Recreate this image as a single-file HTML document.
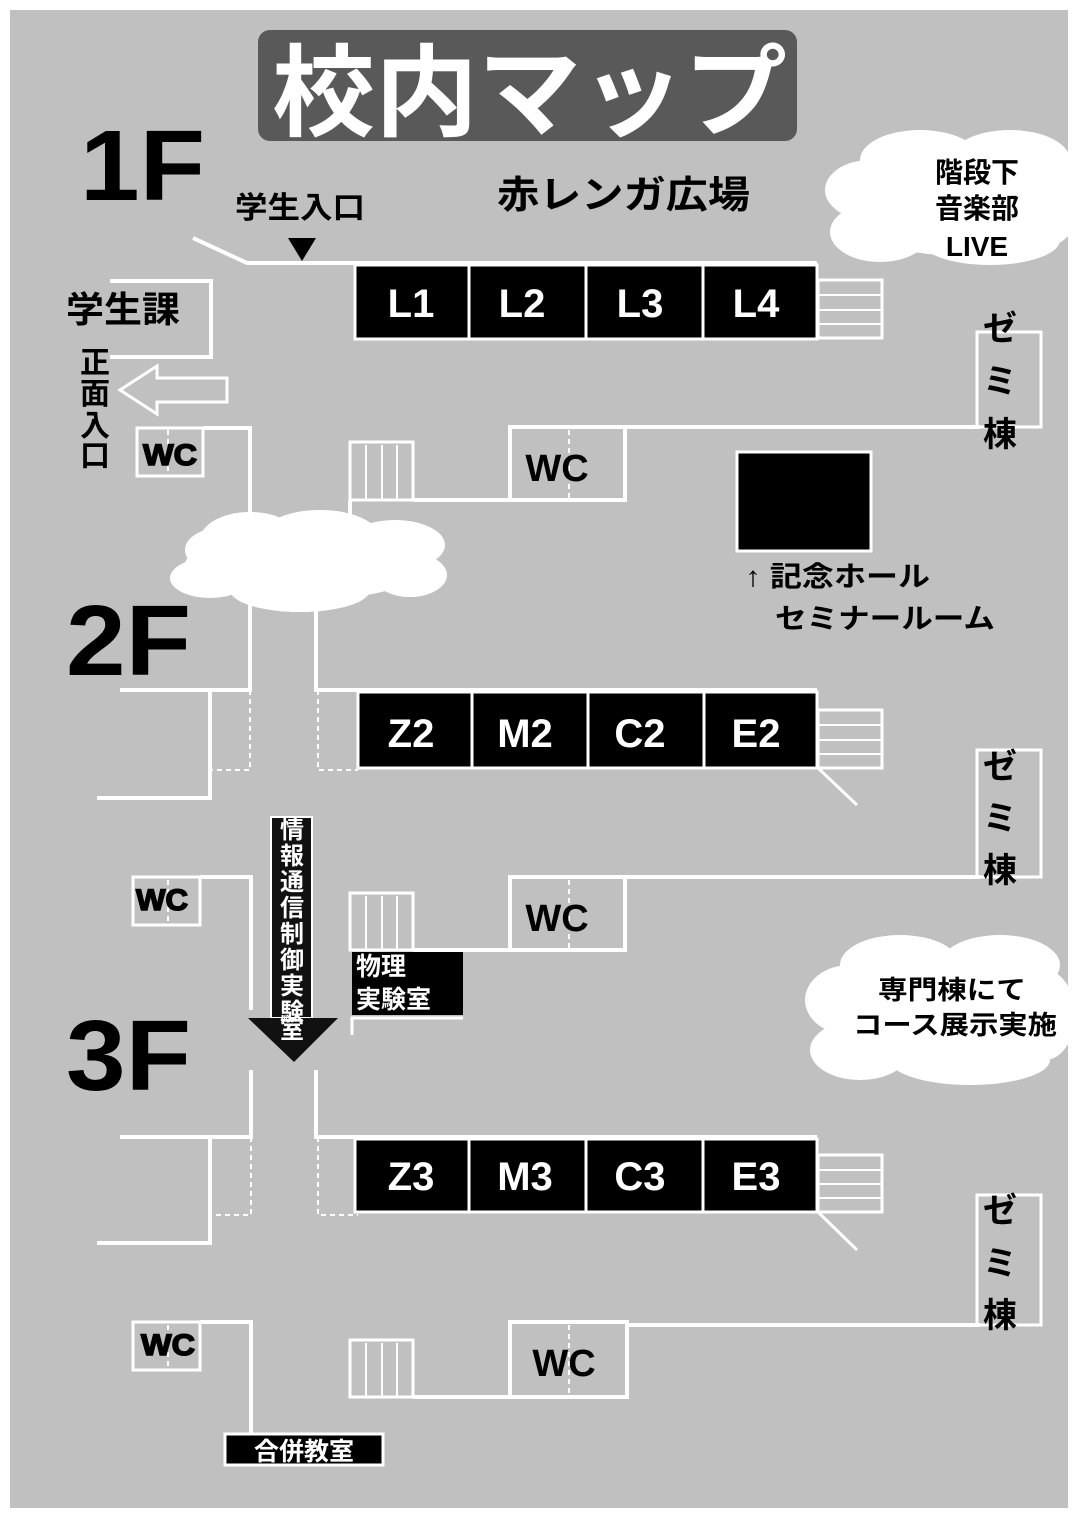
<!DOCTYPE html>
<html><head><meta charset="utf-8"><style>
body{margin:0;background:#fff}
svg{display:block}
text{font-family:"Liberation Sans","Noto Sans CJK JP",sans-serif;font-weight:bold}
</style></head><body>
<svg width="1075" height="1518" viewBox="0 0 1075 1518" xmlns="http://www.w3.org/2000/svg">
<defs><clipPath id="pg"><rect x="10" y="10" width="1058" height="1498"/></clipPath></defs>
<rect x="0" y="0" width="1075" height="1518" fill="#fff"/>
<rect x="10" y="10" width="1058" height="1498" fill="#c0c0c0"/>
<g clip-path="url(#pg)">
<!-- title -->
<rect x="258" y="30" width="539" height="111" rx="12" fill="#595959"/>
<text x="272" y="128" font-size="100" fill="#fff" font-family="Noto Sans CJK JP" font-weight="900" textLength="515" lengthAdjust="spacingAndGlyphs">校内マップ</text>
<text x="80" y="200" font-size="100" fill="#000" font-weight="900" textLength="125" lengthAdjust="spacingAndGlyphs">1F</text>
<text x="66" y="675" font-size="100" fill="#000" textLength="125" lengthAdjust="spacingAndGlyphs">2F</text>
<text x="66" y="1090" font-size="100" fill="#000" textLength="125" lengthAdjust="spacingAndGlyphs">3F</text>
<text x="235" y="218" font-size="30" textLength="130" lengthAdjust="spacingAndGlyphs">学生入口</text>
<text x="497" y="208" font-size="38" textLength="253" lengthAdjust="spacingAndGlyphs">赤レンガ広場</text>
<text x="66" y="322" font-size="36" textLength="114" lengthAdjust="spacingAndGlyphs">学生課</text>
<g font-size="30" text-anchor="middle"><text x="95" y="373">正</text><text x="95" y="404">面</text><text x="95" y="436">入</text><text x="95" y="466">口</text></g>
<polygon points="288,238 316,238 302,261" fill="#000"/>

<g fill="none" stroke="#fff" stroke-width="4">
<polyline points="193,238 247,263 817,263"/>
<polyline points="110,281 211,281 211,357 110,357"/>
<polygon points="227,378 157,378 157,366 120,390 157,414 157,402 227,402" stroke-width="3"/>
<rect x="137" y="428" width="66" height="48" stroke-width="3"/>
<polyline points="203,428 250,428 250,540"/>
<rect x="350" y="442" width="63" height="58" stroke-width="3"/>
<line x1="366" y1="445" x2="366" y2="500" stroke-width="2"/><line x1="382" y1="445" x2="382" y2="500" stroke-width="2"/><line x1="397" y1="445" x2="397" y2="500" stroke-width="2"/>
<line x1="350" y1="500" x2="350" y2="530"/>
<line x1="413" y1="500" x2="510" y2="500"/>
<rect x="510" y="427" width="115" height="73"/>
<line x1="625" y1="427" x2="980" y2="427"/>
<rect x="977" y="332" width="64" height="95" stroke-width="3"/>
<rect x="818" y="280" width="64" height="58" stroke-width="3"/>
<line x1="818" y1="295" x2="882" y2="295" stroke-width="2"/><line x1="818" y1="310" x2="882" y2="310" stroke-width="2"/><line x1="818" y1="324" x2="882" y2="324" stroke-width="2"/>
<polyline points="250,600 250,690 120,690"/>
<polyline points="210,690 210,798 97,798"/>
<polyline points="316,610 316,690 817,690"/>
<rect x="818" y="710" width="64" height="58" stroke-width="3"/>
<line x1="818" y1="725" x2="882" y2="725" stroke-width="2"/><line x1="818" y1="740" x2="882" y2="740" stroke-width="2"/><line x1="818" y1="754" x2="882" y2="754" stroke-width="2"/>
<line x1="818" y1="768" x2="857" y2="805" stroke-width="3"/>
<rect x="977" y="750" width="64" height="127" stroke-width="3"/>
<line x1="625" y1="877" x2="980" y2="877"/>
<rect x="133" y="877" width="67" height="48" stroke-width="3"/>
<polyline points="200,877 251,877 251,1010"/>
<rect x="350" y="893" width="63" height="57" stroke-width="3"/>
<line x1="366" y1="896" x2="366" y2="950" stroke-width="2"/><line x1="382" y1="896" x2="382" y2="950" stroke-width="2"/><line x1="397" y1="896" x2="397" y2="950" stroke-width="2"/>
<line x1="413" y1="950" x2="510" y2="950"/>
<rect x="510" y="877" width="115" height="73"/>
<polyline points="352,1035 352,1018 463,1018" stroke-width="3"/>
<polyline points="251,1070 251,1137 120,1137"/>
<polyline points="210,1137 210,1243 97,1243"/>
<polyline points="316,1070 316,1137 817,1137"/>
<rect x="818" y="1155" width="64" height="57" stroke-width="3"/>
<line x1="818" y1="1170" x2="882" y2="1170" stroke-width="2"/><line x1="818" y1="1184" x2="882" y2="1184" stroke-width="2"/><line x1="818" y1="1198" x2="882" y2="1198" stroke-width="2"/>
<line x1="818" y1="1212" x2="857" y2="1250" stroke-width="3"/>
<rect x="977" y="1195" width="64" height="130" stroke-width="3"/>
<line x1="627" y1="1325" x2="980" y2="1325"/>
<rect x="133" y="1322" width="67" height="48" stroke-width="3"/>
<polyline points="200,1322 251,1322 251,1437"/>
<rect x="350" y="1340" width="63" height="57" stroke-width="3"/>
<line x1="366" y1="1343" x2="366" y2="1397" stroke-width="2"/><line x1="382" y1="1343" x2="382" y2="1397" stroke-width="2"/><line x1="397" y1="1343" x2="397" y2="1397" stroke-width="2"/>
<line x1="413" y1="1397" x2="510" y2="1397"/>
<rect x="510" y="1322" width="117" height="75"/>
</g>
<g stroke="#fff" stroke-width="2" stroke-dasharray="5,4" fill="none">
<line x1="168" y1="430" x2="168" y2="476"/><line x1="569" y1="430" x2="569" y2="500"/>
<polyline points="250,690 250,770 212,770"/><polyline points="318,690 318,770 358,770"/>
<line x1="168" y1="880" x2="168" y2="925"/><line x1="569" y1="880" x2="569" y2="950"/>
<polyline points="251,1137 251,1215 212,1215"/><polyline points="318,1137 318,1215 358,1215"/>
<line x1="168" y1="1325" x2="168" y2="1370"/><line x1="569" y1="1325" x2="569" y2="1397"/>
</g>
<g fill="#000" stroke="#fff" stroke-width="3">
<rect x="355" y="265" width="114" height="74"/><rect x="469" y="265" width="117" height="74"/><rect x="586" y="265" width="117" height="74"/><rect x="703" y="265" width="114" height="74"/>
<rect x="358" y="692" width="114" height="76"/><rect x="472" y="692" width="116" height="76"/><rect x="588" y="692" width="116" height="76"/><rect x="704" y="692" width="113" height="76"/>
<rect x="355" y="1139" width="114" height="73"/><rect x="469" y="1139" width="117" height="73"/><rect x="586" y="1139" width="117" height="73"/><rect x="703" y="1139" width="114" height="73"/>
<rect x="737" y="452" width="134" height="99"/>
<rect x="225" y="1434" width="158" height="31"/>
</g>
<rect x="352" y="952" width="111" height="63" fill="#000"/>
<g fill="#fff" font-size="40" text-anchor="middle">
<text x="411" y="317">L1</text><text x="522" y="317">L2</text><text x="640" y="317">L3</text><text x="756" y="317">L4</text>
<text x="411" y="747">Z2</text><text x="525" y="747">M2</text><text x="640" y="747">C2</text><text x="756" y="747">E2</text>
<text x="411" y="1190">Z3</text><text x="525" y="1190">M3</text><text x="640" y="1190">C3</text><text x="756" y="1190">E3</text>
</g>
<text x="304" y="1460" font-size="25" fill="#fff" text-anchor="middle">合併教室</text>
<text x="356" y="975" font-size="25" fill="#fff" font-weight="normal">物理</text>
<text x="356" y="1008" font-size="25" fill="#fff" font-weight="normal">実験室</text>
<g font-size="38" text-anchor="middle"><text x="557" y="481">WC</text><text x="557" y="931">WC</text><text x="564" y="1376">WC</text></g>
<g font-size="30" font-weight="900" stroke="#000" stroke-width="1.5"><text x="143" y="465" textLength="54" lengthAdjust="spacingAndGlyphs">WC</text><text x="136" y="910" textLength="52" lengthAdjust="spacingAndGlyphs">WC</text><text x="141" y="1355" textLength="54" lengthAdjust="spacingAndGlyphs">WC</text></g>
<g font-size="34" text-anchor="middle">
<text x="1000" y="340">ゼ</text><text x="1000" y="393">ミ</text><text x="1000" y="446">棟</text>
<text x="1000" y="778">ゼ</text><text x="1000" y="830">ミ</text><text x="1000" y="882">棟</text>
<text x="1000" y="1222">ゼ</text><text x="1000" y="1275">ミ</text><text x="1000" y="1327">棟</text>
</g>
<text x="745" y="586" font-size="28" textLength="185" lengthAdjust="spacingAndGlyphs">↑ 記念ホール</text>
<text x="775" y="628" font-size="28" textLength="220" lengthAdjust="spacingAndGlyphs">セミナールーム</text>
<rect x="271" y="817" width="41" height="201" fill="#111" stroke="#fff" stroke-width="2"/>
<polygon points="248,1018 338,1018 294,1062" fill="#111"/>
<g fill="#fff" font-size="24" text-anchor="middle"><text x="292" y="838">情</text><text x="292" y="864">報</text><text x="292" y="890">通</text><text x="292" y="916">信</text><text x="292" y="942">制</text><text x="292" y="968">御</text><text x="292" y="994">実</text><text x="292" y="1020">験</text><text x="292" y="1038">室</text></g>
<g fill="#fff">
<ellipse cx="305" cy="565" rx="120" ry="35"/><ellipse cx="220" cy="550" rx="35" ry="22"/><ellipse cx="250" cy="540" rx="50" ry="28"/><ellipse cx="320" cy="538" rx="60" ry="28"/><ellipse cx="395" cy="545" rx="50" ry="25"/><ellipse cx="410" cy="575" rx="37" ry="22"/><ellipse cx="210" cy="578" rx="40" ry="20"/><ellipse cx="300" cy="590" rx="70" ry="22"/>
<ellipse cx="950" cy="200" rx="110" ry="55"/><ellipse cx="870" cy="190" rx="45" ry="30"/><ellipse cx="880" cy="232" rx="50" ry="30"/><ellipse cx="920" cy="160" rx="60" ry="30"/><ellipse cx="1010" cy="160" rx="60" ry="30"/><ellipse cx="990" cy="240" rx="70" ry="25"/><ellipse cx="1050" cy="200" rx="30" ry="45"/>
<ellipse cx="940" cy="1010" rx="120" ry="60"/><ellipse cx="850" cy="1000" rx="45" ry="35"/><ellipse cx="860" cy="1050" rx="50" ry="30"/><ellipse cx="900" cy="965" rx="60" ry="30"/><ellipse cx="1000" cy="965" rx="60" ry="30"/><ellipse cx="970" cy="1060" rx="80" ry="25"/><ellipse cx="1045" cy="1015" rx="30" ry="45"/>
</g>
<g font-size="28" text-anchor="middle"><text x="977" y="182">階段下</text><text x="977" y="218">音楽部</text><text x="977" y="256">LIVE</text></g>
<text x="878" y="999" font-size="26" textLength="148" lengthAdjust="spacingAndGlyphs">専門棟にて</text>
<text x="853" y="1034" font-size="26" textLength="204" lengthAdjust="spacingAndGlyphs">コース展示実施</text>
</g>
</svg>
</body></html>
